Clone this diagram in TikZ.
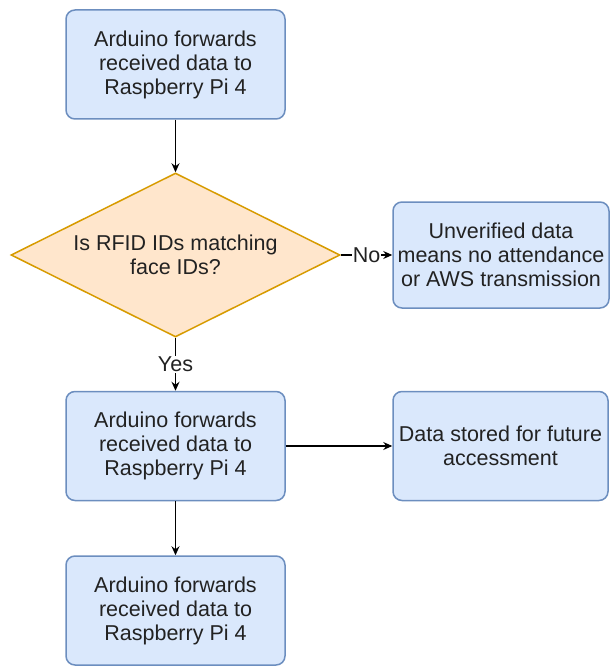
\documentclass[tikz,border=0pt]{standalone}
\usepackage{fontspec}
\setmainfont{Liberation Sans}
\usetikzlibrary{shapes.geometric,arrows.meta}
\definecolor{bfill}{HTML}{DAE8FC}
\definecolor{bdraw}{HTML}{6C8EBF}
\definecolor{ofill}{HTML}{FFE6CC}
\definecolor{odraw}{HTML}{D79B00}
\definecolor{txt}{HTML}{222222}
\begin{document}
\begin{tikzpicture}[x=1pt,y=-1pt,
  font=\fontsize{21.5}{24}\selectfont,
  every node/.style={text=txt},
  box/.style={rectangle, rounded corners=9pt, draw=bdraw, fill=bfill, line width=1.5pt,
    minimum width=219pt, minimum height=109pt, align=center, inner sep=0pt},
  dec/.style={diamond, aspect=2, draw=odraw, fill=ofill, line width=1.5pt,
    minimum width=329pt, minimum height=164pt, align=center, inner sep=0pt},
  conn/.style={draw=black, line width=1.1pt, -{Stealth[length=9pt,width=8pt]}},
  lbl/.style={fill=white, inner sep=1pt}]
\useasboundingbox (0,0) rectangle (610,666);
\node[box] (a) at (175.5,64.5) {Arduino forwards\\received data to\\Raspberry Pi 4};
\node[dec] (d) at (175.5,255) {Is RFID IDs matching\\face IDs?};
\node[box, minimum width=216pt, minimum height=106pt] (u) at (501,255) {Unverified data\\means no attendance\\or AWS transmission};
\node[box] (b) at (175.5,446) {Arduino forwards\\received data to\\Raspberry Pi 4};
\node[box, minimum width=215pt] (s) at (500.5,446) {Data stored for future\\accessment};
\node[box] (c) at (175.5,610.5) {Arduino forwards\\received data to\\Raspberry Pi 4};
\draw[conn] (a.south) -- (d.north);
\draw[conn] (d.east) -- node[lbl] {No} (u.west);
\draw[conn] (d.south) -- node[lbl] {Yes} (b.north);
\draw[conn] (b.east) -- (s.west);
\draw[conn] (b.south) -- (c.north);
\end{tikzpicture}
\end{document}
